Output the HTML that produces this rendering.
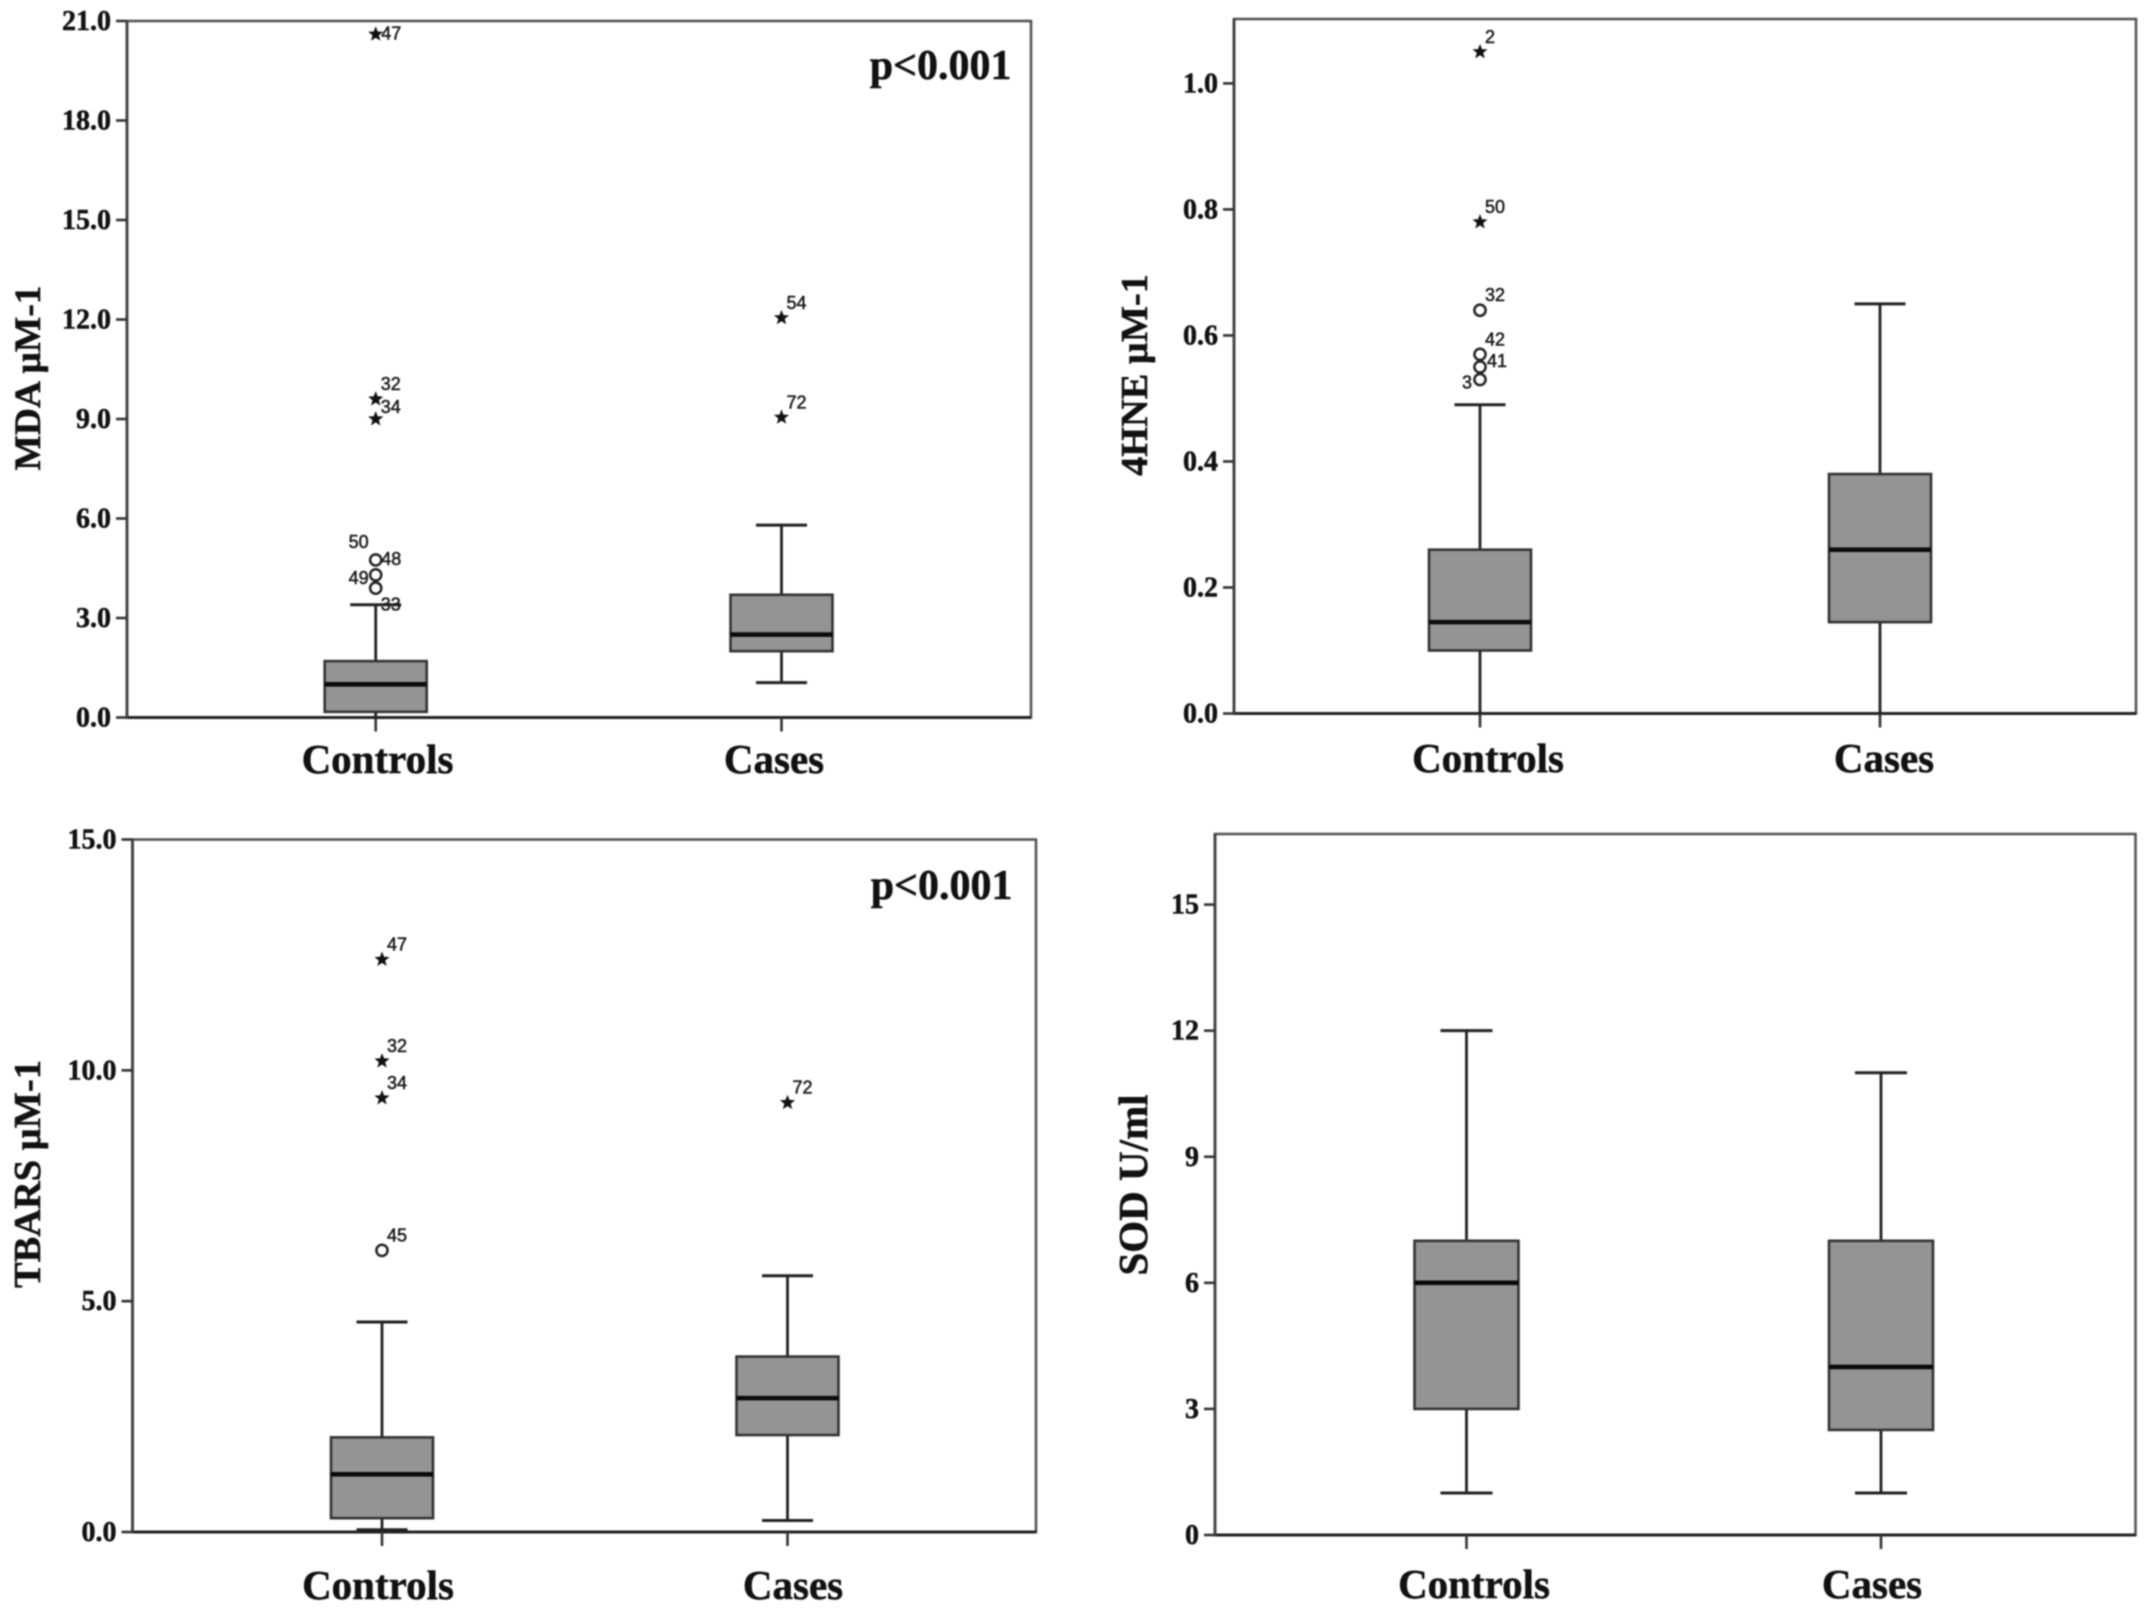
<!DOCTYPE html>
<html lang="en">
<head>
<meta charset="utf-8">
<title>Oxidative stress markers in controls and cases</title>
<style>
html,body{margin:0;padding:0;background:#fff;width:2150px;height:1611px;overflow:hidden}
svg{display:block;filter:blur(.8px)}
text{font-family:"Liberation Serif",serif;font-weight:700;fill:#111;stroke:#111;stroke-width:.5px}
.pt{font-family:"Liberation Sans",sans-serif;font-size:18px;font-weight:400;fill:#1a1a1a;stroke:#1a1a1a;stroke-width:.5px}
</style>
</head>
<body>
<svg id="figure" xmlns="http://www.w3.org/2000/svg" width="2150" height="1611" viewBox="0 0 2150 1611"></svg>
<script>
// ---- Data: [lower whisker, Q1, median, Q3, upper whisker] ----
const categories = ['Controls', 'Cases'];

const mdaControls = [0.0, 0.17, 1.0, 1.7, 3.4];
const mdaCases = [1.05, 2.0, 2.5, 3.7, 5.8];
const mdaTicks = [0, 3, 6, 9, 12, 15, 18, 21];
const mdaControlsStars = [20.6, 9.6, 9.0];
const mdaControlsStarIds = ['47', '32', '34'];
const mdaControlsStarSides = ['e', 'ne', 'ne2'];
const mdaControlsCircles = [4.75, 4.3, 3.9];
const mdaControlsCircleIds = ['48', '50', '49'];
const mdaControlsCircleSides = ['e', 'nnw', 'nw'];
const mdaCasesStars = [12.05, 9.05];
const mdaCasesStarIds = ['54', '72'];
const mdaCasesStarSides = ['ne', 'ne'];

const hneControls = [0.0, 0.1, 0.145, 0.26, 0.49];
const hneCases = [0.0, 0.145, 0.26, 0.38, 0.65];
const hneTicks = [0, 0.2, 0.4, 0.6, 0.8, 1.0];
const hneControlsStars = [1.05, 0.78];
const hneControlsStarIds = ['2', '50'];
const hneControlsStarSides = ['ne', 'ne'];
const hneControlsCircles = [0.64, 0.57, 0.55, 0.53];
const hneControlsCircleIds = ['32', '42', '41', '3'];
const hneControlsCircleSides = ['ne', 'ne', 'en', 'w'];

const tbarsControls = [0.05, 0.3, 1.25, 2.05, 4.55];
const tbarsCases = [0.25, 2.1, 2.9, 3.8, 5.55];
const tbarsTicks = [0, 5, 10, 15];
const tbarsControlsStars = [12.4, 10.2, 9.4];
const tbarsControlsStarIds = ['47', '32', '34'];
const tbarsControlsStarSides = ['ne', 'ne', 'ne'];
const tbarsControlsCircles = [6.1];
const tbarsControlsCircleIds = ['45'];
const tbarsControlsCircleSides = ['ne'];
const tbarsCasesStars = [9.3];
const tbarsCasesStarIds = ['72'];
const tbarsCasesStarSides = ['ne'];

const sodControls = [1, 3, 6, 7, 12];
const sodCases = [1, 2.5, 4, 7, 11];
const sodTicks = [0, 3, 6, 9, 12, 15];

const NS = 'http://www.w3.org/2000/svg';
const root = document.getElementById('figure');

function mark(parent, tag, attrs, name) {
  const el = document.createElementNS(NS, tag);
  for (const k in attrs) el.setAttribute(k, attrs[k]);
  
  
  parent.appendChild(el);
  return el;
}
function label(parent, str, attrs, name) {
  const el = mark(parent, 'text', attrs, name);
  el.textContent = str;
  return el;
}

const sideOffsets = {
  e:   {dx: 5.5, dy: -1,  anchor: 'start'},
  en:  {dx: 7,   dy: -6,  anchor: 'start'},
  ne:  {dx: 5,   dy: -15, anchor: 'start'},
  ne2: {dx: 5,   dy: -12, anchor: 'start'},
  w:   {dx: -8,  dy: 3,   anchor: 'end'},
  nw:  {dx: -7,  dy: -10, anchor: 'end'},
  nnw: {dx: -7,  dy: -33, anchor: 'end'}
};

function starPath(cx, cy, R, r) {
  let d = '';
  for (let i = 0; i < 10; i++) {
    const a = -Math.PI / 2 + i * Math.PI / 5;
    const rad = i % 2 ? r : R;
    d += (i ? 'L' : 'M') + (cx + rad * Math.cos(a)).toFixed(1) + ' ' + (cy + rad * Math.sin(a)).toFixed(1);
  }
  return d + 'Z';
}

function drawPanel(p) {
  const g = mark(root, 'g', {}, p.id + '-panel');
  const y = v => p.bottom - (v - p.min) / (p.max - p.min) * (p.bottom - p.top);

  mark(g, 'rect', {x: p.left, y: p.top, width: p.right - p.left, height: p.bottom - p.top, fill: '#fff', stroke: '#555', 'stroke-width': 2.6}, p.id + '-plot-frame');
  mark(g, 'line', {x1: p.left, x2: p.right, y1: p.bottom, y2: p.bottom, stroke: '#222', 'stroke-width': 3}, p.id + '-x-axis');
  mark(g, 'line', {x1: p.left, x2: p.left, y1: p.top, y2: p.bottom, stroke: '#444', 'stroke-width': 3}, p.id + '-y-axis');

  p.ticks.forEach(t => {
    mark(g, 'line', {x1: p.left - 11, x2: p.left, y1: y(t), y2: y(t), stroke: '#333', 'stroke-width': 2.6}, p.id + '-y-tick');
    label(g, t.toFixed(p.decimals), {x: p.left - 16, y: y(t) + 9, 'text-anchor': 'end', 'font-size': 28}, p.id + '-y-tick-label');
  });

  label(g, p.title, {
    x: 0, y: 0, 'text-anchor': 'middle', 'font-size': p.titleSize,
    transform: 'translate(' + p.titleX + ',' + p.titleY + ') rotate(-90)'
  }, p.id + '-y-axis-title');

  p.series.forEach((s, i) => {
    const cx = p.cats[i];
    const [lo, q1, med, q3, hi] = s.box;
    const sg = mark(g, 'g', {}, p.id + '-' + categories[i].toLowerCase() + '-series');

    mark(sg, 'line', {x1: cx, x2: cx, y1: p.bottom, y2: p.bottom + 14, stroke: '#333', 'stroke-width': 2.6}, p.id + '-x-tick');
    label(sg, categories[i], {x: p.labelX[i], y: p.labelY, 'text-anchor': 'middle', 'font-size': 41}, p.id + '-x-tick-label');

    mark(sg, 'line', {x1: cx, x2: cx, y1: y(hi), y2: y(lo), stroke: '#222', 'stroke-width': 2.8}, 'whisker-stem');
    mark(sg, 'line', {x1: cx - p.cap, x2: cx + p.cap, y1: y(hi), y2: y(hi), stroke: '#222', 'stroke-width': 3}, 'whisker-cap-upper');
    mark(sg, 'line', {x1: cx - p.cap, x2: cx + p.cap, y1: y(lo), y2: y(lo), stroke: '#222', 'stroke-width': 3}, 'whisker-cap-lower');
    mark(sg, 'rect', {x: cx - p.box, y: y(q3), width: p.box * 2, height: y(q1) - y(q3), fill: '#949494', stroke: '#333', 'stroke-width': 2.6}, 'iqr-box');
    mark(sg, 'line', {x1: cx - p.box, x2: cx + p.box, y1: y(med), y2: y(med), stroke: '#0a0a0a', 'stroke-width': 4.6}, 'median-line');

    (s.stars || []).forEach((v, k) => {
      mark(sg, 'path', {d: starPath(cx, y(v), 8, 3.4), fill: '#111'}, 'extreme-outlier-star');
      const o = sideOffsets[s.starSides[k]];
      label(sg, s.starIds[k], {x: cx + o.dx, y: y(v) + o.dy + 6, 'text-anchor': o.anchor, class: 'pt'}, 'outlier-case-label');
    });
    (s.circles || []).forEach((v, k) => {
      mark(sg, 'circle', {cx: cx, cy: y(v), r: 5.6, fill: 'none', stroke: '#222', 'stroke-width': 2.5}, 'outlier-circle');
      const o = sideOffsets[s.circleSides[k]];
      label(sg, s.circleIds[k], {x: cx + o.dx, y: y(v) + o.dy + 6, 'text-anchor': o.anchor, class: 'pt'}, 'outlier-case-label');
    });
    if (s.capNote) {
      label(sg, s.capNote, {x: cx + 5, y: y(hi) + 6, 'text-anchor': 'start', class: 'pt'}, 'whisker-case-label');
    }
  });

  if (p.note) {
    label(g, p.note, {x: p.noteX, y: p.noteY, 'text-anchor': 'end', 'font-size': 42}, p.id + '-p-value');
  }
}

drawPanel({
  id: 'mda', title: 'MDA µM-1', titleSize: 37.5, titleX: 40, titleY: 378,
  left: 127, right: 1031, top: 21, bottom: 717.5, min: 0, max: 21,
  ticks: mdaTicks, decimals: 1, cats: [375.7, 781.5], labelX: [377.5, 774], labelY: 773,
  box: 51, cap: 25.5, note: 'p<0.001', noteX: 1011.5, noteY: 79,
  series: [
    {box: mdaControls, stars: mdaControlsStars, starIds: mdaControlsStarIds, starSides: mdaControlsStarSides,
     circles: mdaControlsCircles, circleIds: mdaControlsCircleIds, circleSides: mdaControlsCircleSides, capNote: '33'},
    {box: mdaCases, stars: mdaCasesStars, starIds: mdaCasesStarIds, starSides: mdaCasesStarSides}
  ]
});
drawPanel({
  id: '4hne', title: '4HNE µM-1', titleSize: 38.3, titleX: 1147, titleY: 375,
  left: 1234, right: 2136, top: 19, bottom: 713.5, min: 0, max: 1.1022,
  ticks: hneTicks, decimals: 1, cats: [1480, 1880], labelX: [1488, 1884], labelY: 772,
  box: 51, cap: 25.5,
  series: [
    {box: hneControls, stars: hneControlsStars, starIds: hneControlsStarIds, starSides: hneControlsStarSides,
     circles: hneControlsCircles, circleIds: hneControlsCircleIds, circleSides: hneControlsCircleSides},
    {box: hneCases}
  ]
});
drawPanel({
  id: 'tbars', title: 'TBARS µM-1', titleSize: 38.4, titleX: 40, titleY: 1174,
  left: 132.5, right: 1036, top: 839.5, bottom: 1532, min: 0, max: 15,
  ticks: tbarsTicks, decimals: 1, cats: [382, 787.5], labelX: [378, 793], labelY: 1599,
  box: 51, cap: 25.5, note: 'p<0.001', noteX: 1012.5, noteY: 899,
  series: [
    {box: tbarsControls, stars: tbarsControlsStars, starIds: tbarsControlsStarIds, starSides: tbarsControlsStarSides,
     circles: tbarsControlsCircles, circleIds: tbarsControlsCircleIds, circleSides: tbarsControlsCircleSides},
    {box: tbarsCases, stars: tbarsCasesStars, starIds: tbarsCasesStarIds, starSides: tbarsCasesStarSides}
  ]
});
drawPanel({
  id: 'sod', title: 'SOD U/ml', titleSize: 41, titleX: 1147, titleY: 1185,
  left: 1215, right: 2135.5, top: 834, bottom: 1535, min: 0, max: 16.68,
  ticks: sodTicks, decimals: 0, cats: [1466.5, 1881], labelX: [1474, 1872], labelY: 1598,
  box: 52, cap: 26,
  series: [
    {box: sodControls},
    {box: sodCases}
  ]
});
</script>
</body>
</html>
